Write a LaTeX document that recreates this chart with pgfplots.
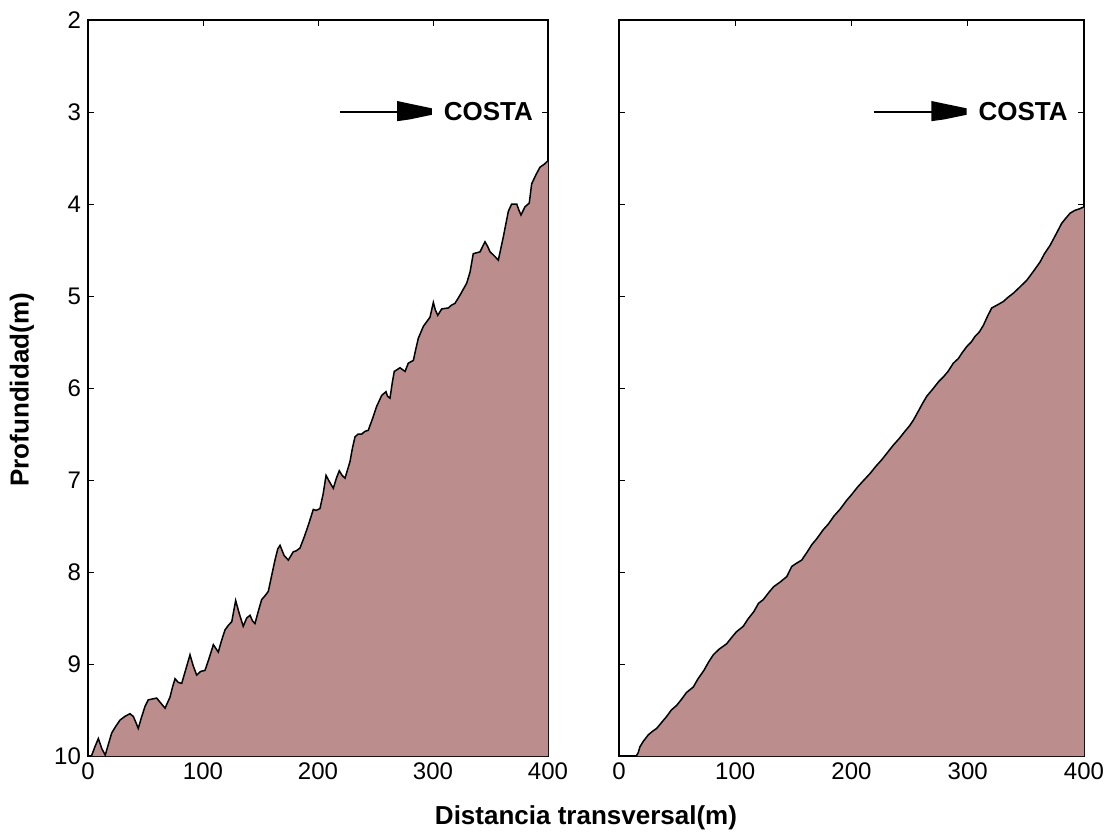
\documentclass[border=0pt]{standalone}
\usepackage{pgfplots}
\pgfplotsset{compat=1.18}
\usepackage{pgfplotstable}
\usepackage{fontspec}
\setmainfont{Liberation Sans}

\definecolor{seabed}{RGB}{187,141,140}

% perfil medido (x en m, profundidad en m)
\pgfplotstableread{
x d
3 10.0
6 9.9
9 9.81
12 9.92
15 9.99
18 9.86
20.6 9.75
24 9.68
27.8 9.61
32 9.57
36.5 9.54
39.4 9.57
41.5 9.63
43.7 9.70
46.5 9.58
49.6 9.46
52.4 9.39
56 9.38
59.7 9.37
63 9.42
67.0 9.48
71.3 9.36
73.5 9.25
75.7 9.16
78.5 9.20
81.5 9.21
85 9.06
88.7 8.90
91.5 9.02
94.5 9.12
98 9.08
101.7 9.07
105 8.95
109.0 8.79
113.3 8.87
116 8.75
119.1 8.63
122 8.58
125.0 8.54
128.4 8.31
131.5 8.45
135.0 8.59
138 8.50
140.9 8.47
143 8.53
145.2 8.56
148 8.43
151.0 8.30
153.8 8.26
156.8 8.21
159.5 8.05
162.6 7.87
165 7.75
167.0 7.71
170.5 7.82
174.2 7.87
178.5 7.78
181 7.77
184.3 7.74
188 7.62
191.6 7.49
195.9 7.32
198.5 7.33
201.7 7.31
204.5 7.15
207.0 6.95
210 7.02
213.3 7.09
216 6.98
218.5 6.90
221 6.95
223.5 6.98
227.8 6.80
230 6.65
232.2 6.53
235 6.50
238.0 6.50
241 6.47
243.7 6.46
247.5 6.33
251.0 6.20
255.4 6.08
259.1 6.04
260.5 6.09
262.6 6.11
264.5 5.95
266.3 5.82
271.3 5.78
273.5 5.80
275.7 5.82
278.5 5.73
282.9 5.70
285 5.58
287.2 5.46
291.6 5.33
297.4 5.23
300.3 5.07
302 5.15
304.1 5.21
307.6 5.14
313.3 5.13
316 5.10
319.1 5.08
323.5 4.99
329.3 4.86
332.2 4.74
335.0 4.54
340.9 4.52
345.2 4.41
347.5 4.46
349.6 4.52
353 4.56
356.8 4.61
361.1 4.36
365.5 4.08
368.4 4.00
372.8 4.00
374.5 4.06
376.5 4.12
380.0 4.03
383.7 3.99
385.8 3.78
389.6 3.68
393.0 3.60
396.5 3.57
400 3.53
}\perfilA

% perfil suavizado
\pgfplotstableread{
x d
15 10.0
16.6 9.96
18 9.90
20.9 9.84
25.2 9.77
29 9.73
32.4 9.70
37 9.63
41 9.57
45 9.50
49.6 9.45
54 9.38
58 9.31
63.9 9.25
68 9.16
73 9.07
77 8.98
81.1 8.90
86 8.84
92.6 8.78
97 8.71
101 8.65
106.9 8.59
111 8.51
116 8.43
120 8.34
124.1 8.30
129 8.22
133 8.16
138.5 8.11
144.3 8.05
148.6 7.94
152 7.91
157.2 7.87
162 7.78
166 7.70
170 7.64
175.7 7.54
180 7.48
185 7.39
190 7.32
195.9 7.22
200 7.16
205 7.08
210 7.01
215.9 6.93
221 6.85
226 6.78
231 6.70
236 6.62
241 6.55
246 6.47
250 6.41
253.2 6.35
258 6.24
261 6.17
264.7 6.09
270 6.01
275 5.93
279 5.88
283 5.82
287.6 5.73
291.9 5.68
295 5.62
299.1 5.55
303 5.50
306.2 5.44
310 5.39
313.4 5.32
317 5.22
320.6 5.13
325 5.10
330.6 5.06
335 5.01
339.2 4.97
345 4.90
350.7 4.83
356 4.74
362.2 4.63
366 4.54
370.8 4.45
375 4.35
380.8 4.21
384 4.16
388 4.10
392 4.07
396.6 4.05
400 4.03
}\perfilB

\pgfplotsset{
  perfil/.style={
    scale only axis,
    height=368pt,
    xmin=0, xmax=400,
    ymin=2, ymax=10,
    y dir=reverse,
    xtick={0,100,...,400},
    ytick={2,...,10},
    major tick length=3pt,
    tick style={black, line width=0.5pt},
    axis line style={black, line width=0.6pt},
    ticklabel style={font=\fontsize{12}{14}\selectfont},
    /pgf/number format/assume math mode=true,
  },
}

\newcommand{\costa}{%
  \draw[black, line width=1pt] (axis cs:219,3) -- (axis cs:270,3);
  \fill[black] (axis cs:268.7,2.88) -- (axis cs:280,2.91) -- (axis cs:299,2.96)
     -- (axis cs:299,3.03) -- (axis cs:280,3.08) -- (axis cs:268.7,3.10) -- cycle;
  \node[anchor=west, font=\bfseries\fontsize{13}{15}\selectfont, inner sep=0pt]
     at (axis cs:309,3) {COSTA};
}

\begin{document}
\begin{tikzpicture}
\path[use as bounding box] (-44pt,-39pt) rectangle (510pt,378pt);

\begin{axis}[perfil, width=230pt, at={(0pt,0pt)}, anchor=south west]
\addplot[draw=none, fill=seabed] table[x=x, y=d] {\perfilA} -- (axis cs:400,10) -- cycle;
\addplot[black, line width=0.75pt] table[x=x, y=d] {\perfilA};
\costa
\end{axis}

\begin{axis}[perfil, width=232.5pt, at={(265.5pt,0pt)}, anchor=south west, yticklabels={}]
\addplot[draw=none, fill=seabed] table[x=x, y=d] {\perfilB} -- (axis cs:400,10) -- cycle;
\addplot[black, line width=0.75pt] table[x=x, y=d] {\perfilB};
\costa
\end{axis}

\node[font=\bfseries\fontsize{13}{15}\selectfont] at (249pt,-31pt) {Distancia transversal(m)};
\node[font=\bfseries\fontsize{13}{15}\selectfont, rotate=90] at (-33pt,183pt) {Profundidad(m)};
\end{tikzpicture}
\end{document}
